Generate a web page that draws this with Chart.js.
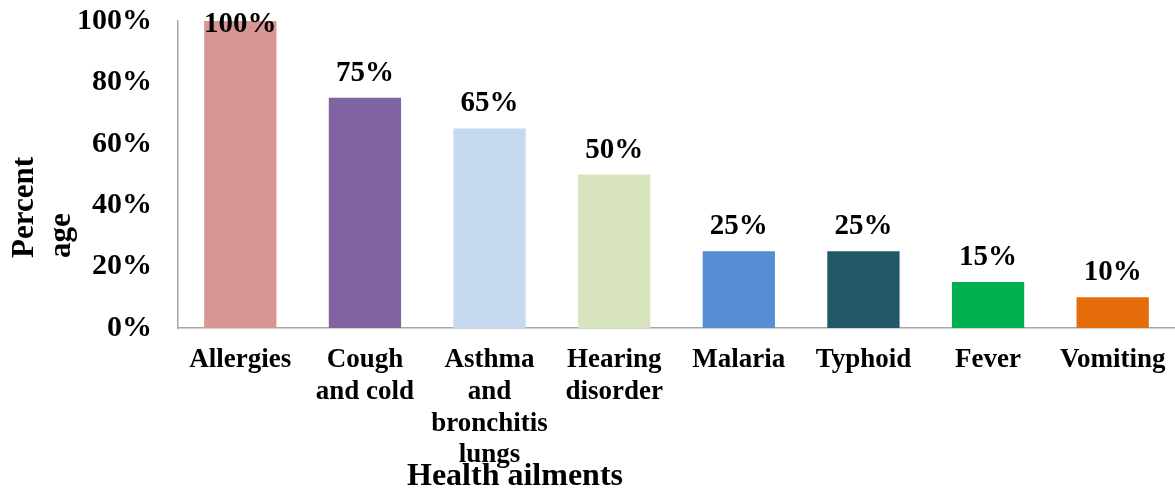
<!DOCTYPE html>
<html>
<head>
<meta charset="utf-8">
<script src="https://cdn.jsdelivr.net/npm/chart.js@4.4.1/dist/chart.umd.min.js"></script>
<style>
  body { margin: 0; background: #fff; }
  #wrap { width: 1175px; height: 491px; position: relative; }
</style>
</head>
<body>
<div id="wrap"><canvas id="myChart"></canvas></div>
<script>
const ailments = [
  'Allergies',
  ['Cough', 'and cold'],
  ['Asthma', 'and', 'bronchitis', 'lungs'],
  ['Hearing', 'disorder'],
  'Malaria',
  'Typhoid',
  'Fever',
  'Vomiting'
]
const percentages = [100, 75, 65, 50, 25, 25, 15, 10]
const barColors = ['#D99594', '#8064A2', '#C6D9F1', '#D7E4BD', '#558ED5', '#215968', '#00B050', '#E46C0A']
const yTicks = [0, 20, 40, 60, 80, 100]

const serif = "'Liberation Serif', 'Times New Roman', serif"

// value labels above bars + the two axis titles
const labelsPlugin = {
  id: 'labelsPlugin',
  afterDatasetsDraw(chart) {
    const ctx = chart.ctx
    const meta = chart.getDatasetMeta(0)
    ctx.save()
    ctx.fillStyle = '#000'
    ctx.font = 'bold 29px ' + serif
    ctx.textAlign = 'center'
    ctx.textBaseline = 'alphabetic'
    meta.data.forEach((bar, i) => {
      let y = bar.y - 17
      if (y < chart.chartArea.top + 11) y = chart.chartArea.top + 11
      ctx.fillText(percentages[i] + '%', bar.x, y)
    })

    // y title
    ctx.font = 'bold 31px ' + serif
    ctx.textAlign = 'left'
    ctx.save()
    ctx.translate(33, 258)
    ctx.rotate(-Math.PI / 2)
    ctx.fillText('Percent', 0, 0)
    ctx.fillText('age', 0, 37)
    ctx.restore()

    // x title
    ctx.font = 'bold 32px ' + serif
    ctx.fillText('Health ailments', 407, 485)
    ctx.restore()
  }
}

const ctx = document.getElementById('myChart').getContext('2d')
const myChart = new Chart(ctx, {
  type: 'bar',
  data: {
    labels: ailments,
    datasets: [{
      label: 'Percentage',
      data: percentages,
      backgroundColor: barColors,
      borderWidth: 0,
      categoryPercentage: 1,
      barPercentage: 0.58
    }]
  },
  options: {
    responsive: true,
    maintainAspectRatio: false,
    animation: false,
    layout: { padding: { top: 21, right: 0, left: 0, bottom: 0 } },
    plugins: {
      legend: { display: false },
      tooltip: { enabled: false }
    },
    scales: {
      x: {
        grid: { display: false, drawTicks: false },
        border: { display: true, color: '#A6A6A6', width: 1.5 },
        ticks: {
          color: '#000',
          padding: 16,
          maxRotation: 0,
          autoSkip: false,
          font: { family: serif, size: 27, weight: 'bold', lineHeight: 1.18 }
        },
        afterFit(scale) {
          scale.height = 163
          scale.paddingLeft = 0
          scale.paddingRight = 0
        }
      },
      y: {
        min: 0,
        max: 100,
        afterBuildTicks(scale) { scale.ticks = yTicks.map(v => ({ value: v })) },
        grid: { display: false, drawTicks: false },
        border: { display: true, color: '#A6A6A6', width: 1.5 },
        ticks: {
          color: '#000',
          padding: 26,
          font: { family: serif, size: 30, weight: 'bold' },
          callback: v => v + '%'
        },
        afterFit(scale) {
          scale.width = 178
          scale.paddingTop = 0
          scale.paddingBottom = 0
        }
      }
    }
  },
  plugins: [labelsPlugin]
})
</script>
</body>
</html>
